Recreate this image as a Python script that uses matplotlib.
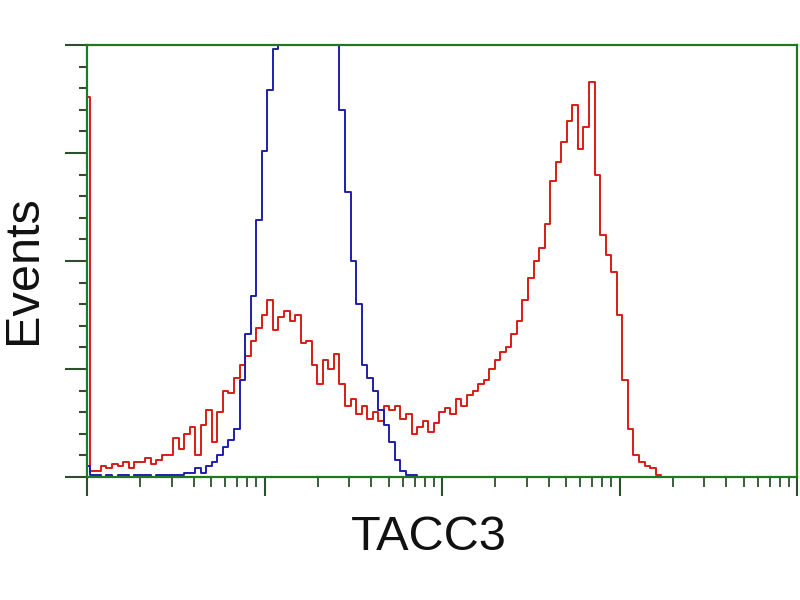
import matplotlib
matplotlib.use("Agg")
import matplotlib.pyplot as plt
import numpy as np
from matplotlib.ticker import LogLocator, NullFormatter, MultipleLocator

# 128 channels span 4 log decades (10^0 .. 10^4); counts listed from channel 0
channels_per_decade = 32

red_counts = [176, 3, 3, 5, 4, 6, 5, 7, 4, 7, 7, 9, 6, 8, 10, 10, 18, 13, 20, 23,
              10, 24, 31, 16, 30, 40, 39, 46, 52, 56, 63, 69, 75, 82, 68, 74, 77, 72, 75, 62,
              63, 52, 43, 54, 50, 57, 43, 33, 36, 29, 33, 27, 30, 26, 33, 31, 33, 27, 29, 20,
              23, 26, 21, 25, 30, 32, 29, 36, 33, 38, 40, 43, 45, 50, 54, 58, 60, 66, 72, 82,
              92, 100, 106, 117, 137, 146, 155, 165, 172, 152, 162, 183, 140, 112, 103, 95, 75, 45, 22, 10,
              7, 5, 4, 1, 0]

blue_counts = [5, 1, 1, 0, 1, 0, 1, 1, 0, 1, 1, 1, 0, 1, 1, 1, 1, 1, 2, 2,
               4, 2, 5, 7, 10, 14, 17, 22, 45, 66, 84, 119, 151, 179, 198, 218, 236, 250, 258, 262,
               258, 248, 236, 224, 212, 202, 170, 132, 100, 80, 52, 46, 40, 31, 24, 16, 8, 3, 1, 1,
               0]

x_label = "TACC3"
y_label = "Events"


def chan_x(counts):
    return 10 ** (np.arange(len(counts)) / channels_per_decade)


fig = plt.figure(figsize=(8, 6), dpi=100)
ax = fig.add_axes([87 / 800, 1 - 477 / 600, 710 / 800, 432 / 600])

ax.plot(chan_x(red_counts), red_counts, color="#d81c16", lw=1.4,
        drawstyle="steps-mid", zorder=3)
ax.plot(chan_x(blue_counts), blue_counts, color="#1e1eaa", lw=1.4,
        drawstyle="steps-mid", zorder=4)

ax.set_xscale("log")
ax.set_xlim(1, 1e4)
ax.set_ylim(0, 200)

green = "#1d7a1d"
for s in ax.spines.values():
    s.set_color(green)
    s.set_linewidth(1.6)
    s.set_zorder(5)

ax.xaxis.set_major_locator(LogLocator(base=10, numticks=10))
ax.xaxis.set_minor_locator(LogLocator(base=10, subs=np.arange(2, 10), numticks=100))
ax.xaxis.set_major_formatter(NullFormatter())
ax.xaxis.set_minor_formatter(NullFormatter())
ax.yaxis.set_major_locator(MultipleLocator(50))
ax.yaxis.set_minor_locator(MultipleLocator(10))
ax.yaxis.set_major_formatter(NullFormatter())

tick_col = "#2d4f2d"
ax.tick_params(axis="x", which="major", direction="out", length=14, width=1.5, color=tick_col)
ax.tick_params(axis="x", which="minor", direction="out", length=7, width=1.3, color=tick_col)
ax.tick_params(axis="y", which="major", direction="out", length=16, width=1.5, color=tick_col)
ax.tick_params(axis="y", which="minor", direction="out", length=6, width=1.5, color=tick_col)

fig.text(429 / 800, 1 - 538 / 600, x_label, ha="center", va="center",
         fontsize=35, family="Liberation Sans", color="#111111")
fig.text(24 / 800, 1 - 270 / 600, y_label, ha="center", va="center", rotation=90,
         fontsize=35, family="Liberation Sans", color="#111111")

fig.savefig("out.png", dpi=100)
